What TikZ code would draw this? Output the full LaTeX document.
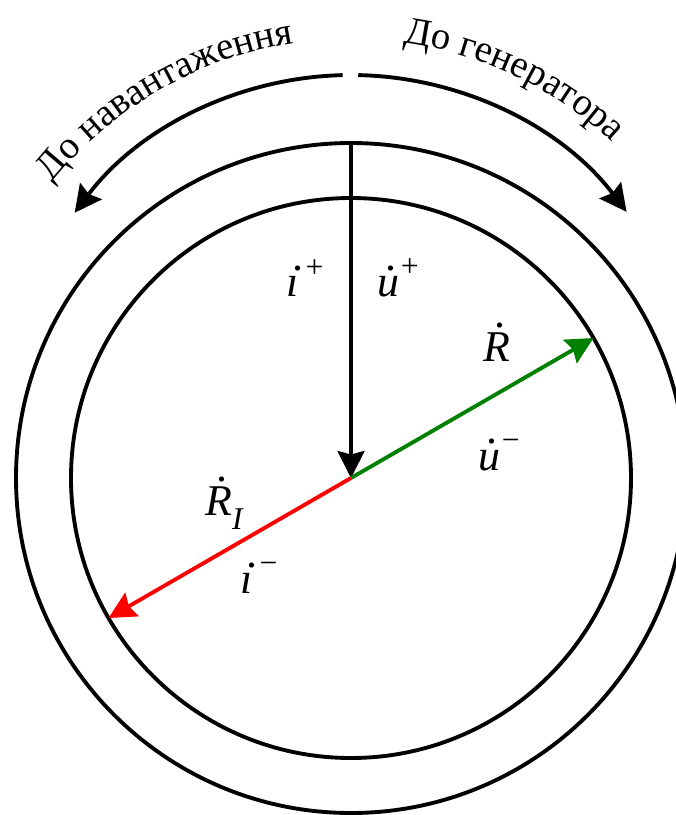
\documentclass[tikz,border=0pt]{standalone}
\usepackage{fontspec}
\setmainfont{Liberation Serif}
\newfontfamily\timesfont{Liberation Serif}
\usepackage{tikz}
\usetikzlibrary{arrows.meta,decorations.text}

% dotted italic letter and its index
\newcommand\vecvar[2][0.6em]{\ooalign{\hfil\kern0.14em\raisebox{#1}{.}\hfil\cr\itshape #2\cr}}
\newcommand\upidx[1]{\kern0.04em\raisebox{0.45em}{\fontsize{18pt}{18pt}\selectfont #1}}
\tikzset{
  lbl/.style={font=\timesfont\fontsize{25pt}{29pt}\selectfont},
  curvetext/.style={decorate,decoration={text along path,text align=center,
    text={|\timesfont\fontsize{22pt}{26pt}\selectfont|#1}}}
}

\begin{document}
\begin{tikzpicture}[x=0.02cm,y=-0.02cm,line width=2.2pt,
  >={Stealth[length=0.54cm,width=0.54cm,inset=0.07cm]}]
\useasboundingbox (0,0) rectangle (676,815);
\coordinate (O) at (351,478);
\coordinate (A) at (351,421);
\foreach \r in {280,335}{\draw (O) circle[radius=\r];}
% radius ends
\path (O) ++(-90:335) coordinate (T);
\path (O) ++(-30:280) coordinate (Rend);
\path (O) ++(150:280) coordinate (RIend);
\draw[->] (T) -- (O);
\draw[->,green!50!black] (O) -- (Rend);
\draw[->,red] (O) -- (RIend);
% arrows on top
\draw[->] (A) ++(-91.4:346) arc[start angle=-91.4,end angle=-143,radius=346];
\draw[->] (A) ++(-88.8:346) arc[start angle=-88.8,end angle=-37.2,radius=346];
\path[curvetext={До навантаження}] (A) ++(-146:382) arc[start angle=-146,end angle=-94,radius=382];
\path[curvetext={До генератора}] (A) ++(-90:382) arc[start angle=-90,end angle=-39,radius=382];
% labels
\node[lbl] (ip) at (305,278) {\vecvar{\i}\upidx{+}};
\node[lbl] (up) at (398,278) {\vecvar{u}\upidx{+}};
\node[lbl] (R) at (497,342) {\vecvar[0.78em]{R}};
\node[lbl] (um) at (499,455) {\vecvar{u}\upidx{\textminus}};
\node[lbl] (RI) at (224,503) {\vecvar[0.78em]{R}\raisebox{-0.3em}{\fontsize{18pt}{18pt}\selectfont\itshape I}};
\node[lbl] (im) at (259,578) {\vecvar{\i}\upidx{\textminus}};
\end{tikzpicture}
\end{document}
